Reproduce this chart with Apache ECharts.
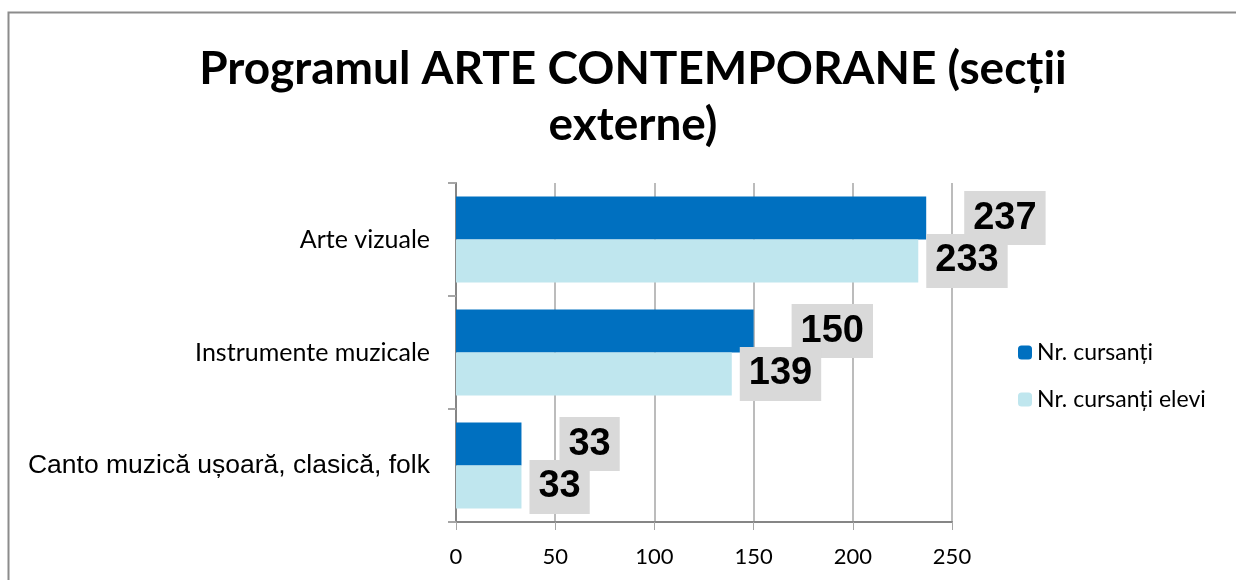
<!DOCTYPE html>
<html>
<head>
<meta charset="utf-8">
<script src="https://cdn.jsdelivr.net/npm/echarts@6/dist/echarts.min.js"></script>
<style>
    html, body { margin: 0; padding: 0; background: #fff; }
    #chart { width: 1236px; height: 580px; }
</style>
</head>
<body>
<div id="chart"></div>
<script>
// date din grafic
let categories = ['Arte vizuale', 'Instrumente muzicale', 'Canto muzică ușoară, clasică, folk'];
let seriesNames = ['Nr. cursanți', 'Nr. cursanți elevi'];
let cursanti = [237, 150, 33];
let cursantiElevi = [233, 139, 33];
let xTicks = [0, 50, 100, 150, 200, 250];

let chart = echarts.init(document.getElementById('chart'));

let labelStyle = function (dist) {
    return {
        show: true,
        position: 'right',
        distance: dist,
        fontFamily: 'Liberation Sans',
        fontWeight: 'bold',
        fontSize: 38,
        lineHeight: 38,
        color: '#000',
        backgroundColor: '#d9d9d9',
        padding: [8, 9, 8, 9]
    };
};

let option = {
    animation: false,
    title: {
        text: 'Programul ARTE CONTEMPORANE (secții\nexterne)',
        left: 628,
        textAlign: 'center',
        top: 36,
        textStyle: {
            fontFamily: 'Lato',
            fontWeight: 'bold',
            fontSize: 46,
            lineHeight: 56,
            color: '#000'
        }
    },
    graphic: [{
        type: 'rect',
        shape: { x: 8.5, y: 12.5, width: 1240, height: 600 },
        style: { fill: 'none', stroke: '#8c8c8c', lineWidth: 2 },
        silent: true
    }],
    legend: {
        orient: 'vertical',
        left: 1013,
        top: 336,
        itemWidth: 14,
        itemHeight: 14,
        itemGap: 24,
        data: seriesNames,
        textStyle: { fontFamily: 'Lato', fontSize: 23, color: '#000' }
    },
    grid: { left: 456, right: 284, top: 183, bottom: 58 },
    xAxis: {
        type: 'value',
        min: xTicks[0],
        max: xTicks[xTicks.length - 1],
        interval: 50,
        axisLine: { show: true, lineStyle: { color: '#868686', width: 2 } },
        axisTick: { show: true, length: 8, lineStyle: { color: '#a6a6a6' } },
        splitLine: { show: true, lineStyle: { color: '#a6a6a6', width: 1.5 } },
        axisLabel: { fontFamily: 'Lato', fontSize: 22, color: '#000', margin: 24 }
    },
    yAxis: {
        type: 'category',
        inverse: true,
        data: categories,
        axisLine: { show: true, lineStyle: { color: '#868686', width: 2 } },
        axisTick: { show: true, length: 8, lineStyle: { color: '#a6a6a6', width: 2 } },
        axisLabel: {
            margin: 26,
            color: '#000',
            fontSize: 25,
            fontFamily: 'Lato',
            rich: {
                arial: { fontFamily: 'Liberation Sans', fontSize: 26.5, color: '#000' }
            },
            formatter: function (v, i) {
                return i === 2 ? '{arial|' + v + '}' : v;
            }
        }
    },
    series: [{
        name: seriesNames[0],
        type: 'bar',
        data: cursanti,
        barGap: '0%',
        barCategoryGap: '24%',
        itemStyle: { color: '#0070c0' },
        label: labelStyle(38)
    }, {
        name: seriesNames[1],
        type: 'bar',
        data: cursantiElevi,
        itemStyle: { color: '#bfe6ee' },
        label: labelStyle(8)
    }]
};
chart.setOption(option);
</script>
</body>
</html>
